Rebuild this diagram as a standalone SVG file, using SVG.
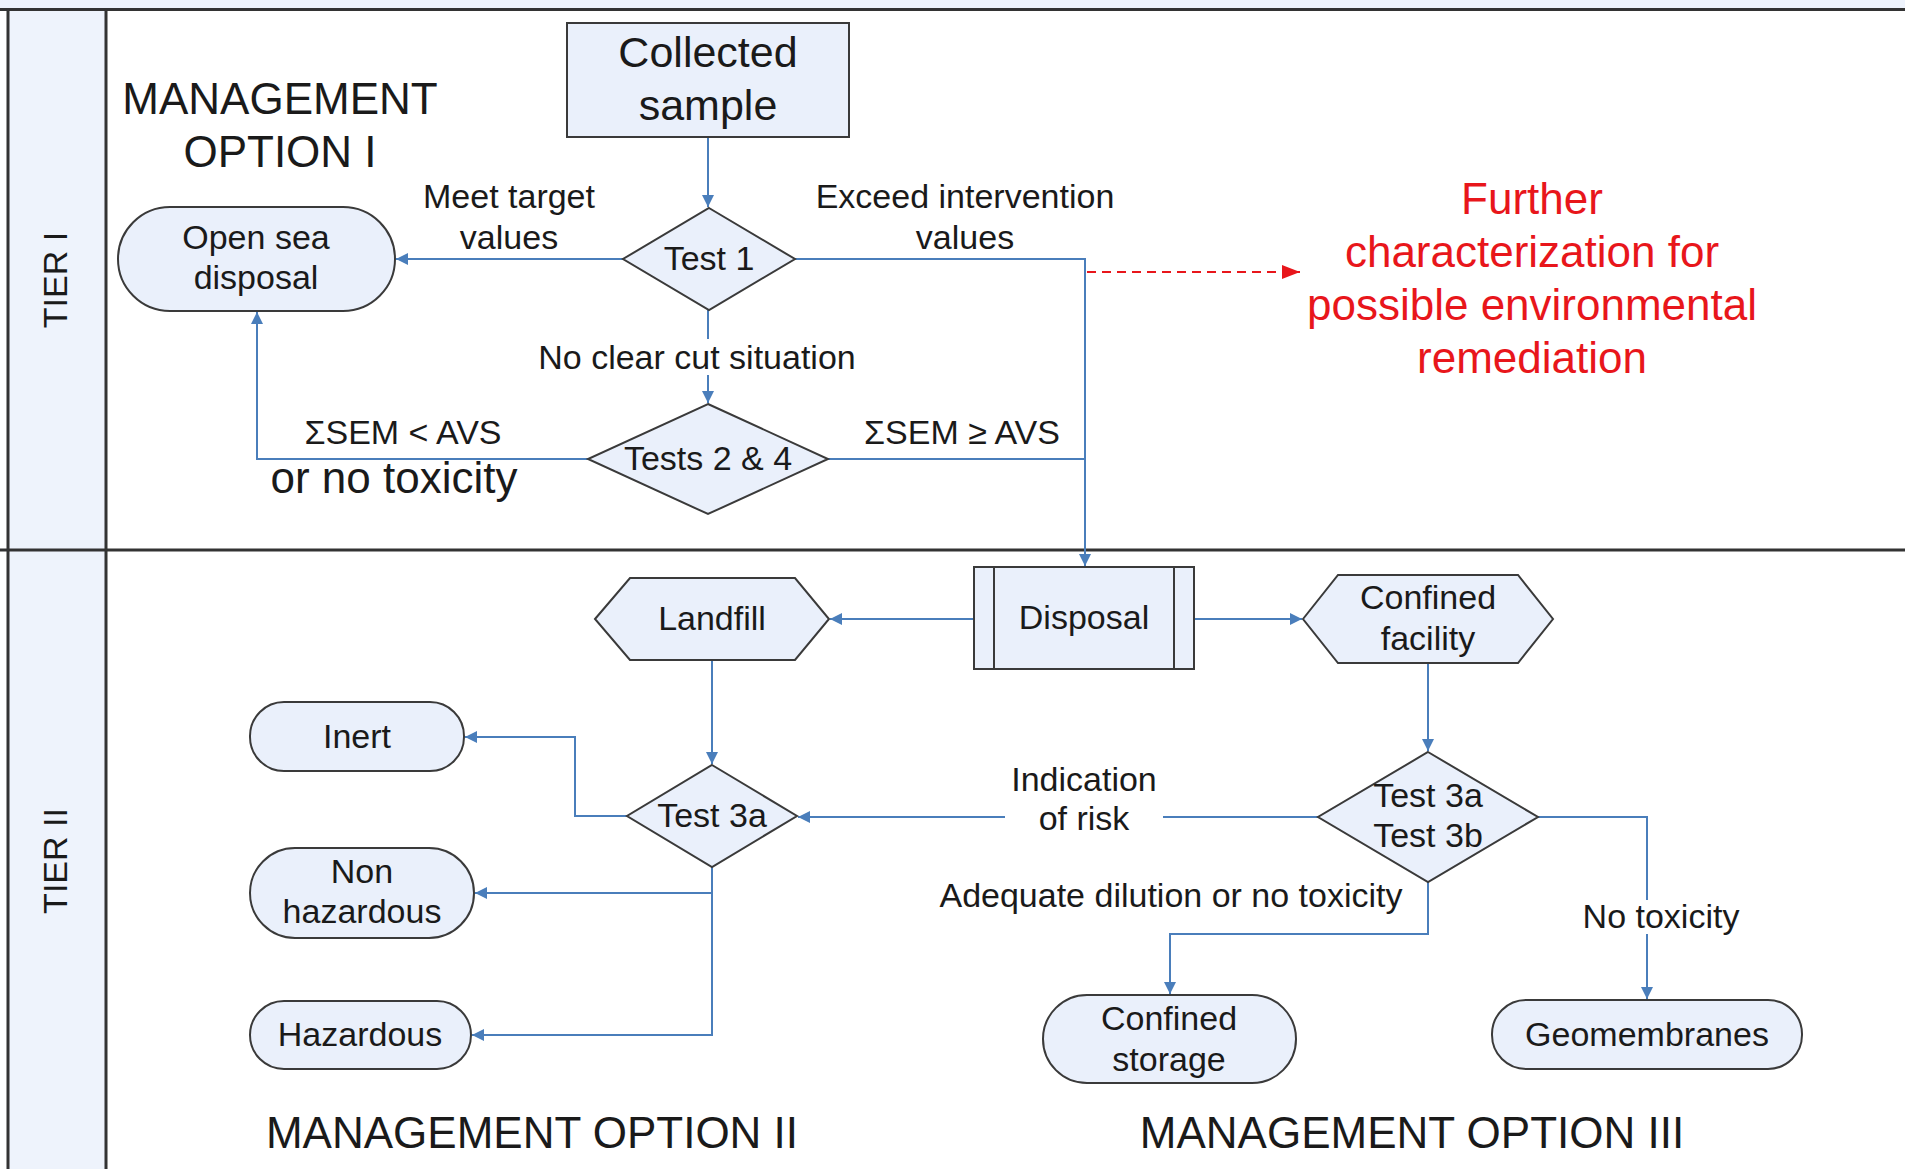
<svg xmlns="http://www.w3.org/2000/svg" width="1905" height="1169" viewBox="0 0 1905 1169">
<defs>
<style>
text{font-family:"Liberation Sans",Arial,sans-serif;fill:#1a1a1a;text-anchor:middle;dominant-baseline:central}
.n{fill:#eaf0fb;stroke:#3a3a3a;stroke-width:2}
.c{fill:none;stroke:#4a7ebb;stroke-width:2}
.ca{fill:none;stroke:#4a7ebb;stroke-width:2;marker-end:url(#ah)}
.t34{font-size:34px}
.t43{font-size:43px}
.t44{font-size:44px}
.red{fill:#e8161b;font-size:44px}
.frame{stroke:#333;stroke-width:3;fill:none}
.bg{fill:#ffffff}
</style>
<marker id="ah" viewBox="0 0 10 10" refX="10" refY="5" markerWidth="12" markerHeight="12" markerUnits="userSpaceOnUse" orient="auto">
<path d="M0,0 L10,5 L0,10 z" fill="#4a7ebb"/>
</marker>
<marker id="ahr" viewBox="0 0 10 10" refX="10" refY="5" markerWidth="18" markerHeight="14" markerUnits="userSpaceOnUse" orient="auto" preserveAspectRatio="none">
<path d="M0,0 L10,5 L0,10 z" fill="#e8161b"/>
</marker>
</defs>
<rect x="0" y="0" width="1905" height="1169" fill="#ffffff"/>
<g id="lanes">
<rect x="0" y="0" width="1905" height="9" fill="#eef3fc"/>
<rect x="8" y="9" width="98" height="1160" fill="#eef3fc"/>
<line class="frame" x1="0" y1="9.5" x2="1905" y2="9.5"/>
<line class="frame" x1="0" y1="550" x2="1905" y2="550"/>
<line class="frame" x1="8" y1="9" x2="8" y2="1169"/>
<line class="frame" x1="106" y1="9" x2="106" y2="1169"/>
<text class="t34" transform="translate(55,280) rotate(-90)">TIER I</text>
<text class="t34" transform="translate(55,861) rotate(-90)">TIER II</text>
</g>
<g id="headings">
<text class="t44" x="280" y="98">MANAGEMENT</text>
<text class="t44" x="280" y="151">OPTION I</text>
<text class="t44" x="532" y="1132">MANAGEMENT OPTION II</text>
<text class="t44" x="1412" y="1132">MANAGEMENT OPTION III</text>
</g>
<g id="connectors">
<path class="ca" d="M708,137 L708,207"/>
<path class="ca" d="M623,259 L396,259"/>
<path class="ca" d="M795,259 L1085,259 L1085,566"/>
<path class="ca" d="M708,310 L708,403"/>
<path class="ca" d="M588,459 L257,459 L257,312"/>
<path class="c" d="M828,459 L1085,459"/>
<path d="M1087,272 L1300,272" fill="none" stroke="#e8161b" stroke-width="2" stroke-dasharray="9,6" marker-end="url(#ahr)"/>
<path class="ca" d="M974,619 L830,619"/>
<path class="ca" d="M1194,619 L1302,619"/>
<path class="ca" d="M712,660 L712,764"/>
<path class="ca" d="M627,816 L575,816 L575,737 L465,737"/>
<path class="ca" d="M712,867 L712,1035 L472,1035"/>
<path class="ca" d="M712,893 L475,893"/>
<path class="ca" d="M1428,663 L1428,751"/>
<path class="ca" d="M1318,817 L798,817"/>
<path class="ca" d="M1538,817 L1647,817 L1647,999"/>
<path class="ca" d="M1428,882 L1428,934 L1170,934 L1170,994"/>
</g>
<g id="connector-labels">
<text class="t34" x="509" y="196">Meet target</text>
<text class="t34" x="509" y="237">values</text>
<text class="t34" x="965" y="196">Exceed intervention</text>
<text class="t34" x="965" y="237">values</text>
<rect class="bg" x="538" y="339" width="318" height="36"/>
<text class="t34" x="697" y="357">No clear cut situation</text>
<text class="t34" x="403" y="432">ΣSEM &lt; AVS</text>
<text class="t44" x="394" y="477">or no toxicity</text>
<text class="t34" x="962" y="432">ΣSEM ≥ AVS</text>
<rect class="bg" x="1005" y="758" width="158" height="80"/>
<text class="t34" x="1084" y="779">Indication</text>
<text class="t34" x="1084" y="818">of risk</text>
<text class="t34" x="1171" y="895">Adequate dilution or no toxicity</text>
<rect class="bg" x="1582" y="900" width="158" height="34"/>
<text class="t34" x="1661" y="916">No toxicity</text>
</g>
<g id="further">
<text class="red" x="1532" y="198">Further</text>
<text class="red" x="1532" y="251">characterization for</text>
<text class="red" x="1532" y="304">possible environmental</text>
<text class="red" x="1532" y="357">remediation</text>
</g>
<g id="collected-sample">
<rect class="n" x="567" y="23" width="282" height="114"/>
<text class="t43" x="708" y="52">Collected</text>
<text class="t43" x="708" y="105">sample</text>
</g>
<g id="test1">
<polygon class="n" points="709,208 795,259 709,310 623,259"/>
<text class="t34" x="709" y="258">Test 1</text>
</g>
<g id="open-sea-disposal">
<rect class="n" x="118" y="207" width="277" height="104" rx="52" ry="52"/>
<text class="t34" x="256" y="237">Open sea</text>
<text class="t34" x="256" y="277">disposal</text>
</g>
<g id="tests24">
<polygon class="n" points="708,404 828,459 708,514 588,459"/>
<text class="t34" x="708" y="458">Tests 2 &amp; 4</text>
</g>
<g id="disposal">
<rect class="n" x="974" y="567" width="220" height="102"/>
<line x1="994" y1="567" x2="994" y2="669" stroke="#3a3a3a" stroke-width="2"/>
<line x1="1174" y1="567" x2="1174" y2="669" stroke="#3a3a3a" stroke-width="2"/>
<text class="t34" x="1084" y="617">Disposal</text>
</g>
<g id="landfill">
<polygon class="n" points="595,619 630,578 795,578 829,619 795,660 630,660"/>
<text class="t34" x="712" y="618">Landfill</text>
</g>
<g id="confined-facility">
<polygon class="n" points="1303,619 1338,575 1518,575 1553,619 1518,663 1338,663"/>
<text class="t34" x="1428" y="597">Confined</text>
<text class="t34" x="1428" y="638">facility</text>
</g>
<g id="test3a">
<polygon class="n" points="712,765 797,816 712,867 627,816"/>
<text class="t34" x="712" y="815">Test 3a</text>
</g>
<g id="test3a3b">
<polygon class="n" points="1428,752 1538,817 1428,882 1318,817"/>
<text class="t34" x="1428" y="795">Test 3a</text>
<text class="t34" x="1428" y="835">Test 3b</text>
</g>
<g id="inert">
<rect class="n" x="250" y="702" width="214" height="69" rx="34" ry="34"/>
<text class="t34" x="357" y="736">Inert</text>
</g>
<g id="non-hazardous">
<rect class="n" x="250" y="848" width="224" height="90" rx="45" ry="45"/>
<text class="t34" x="362" y="871">Non</text>
<text class="t34" x="362" y="911">hazardous</text>
</g>
<g id="hazardous">
<rect class="n" x="250" y="1001" width="221" height="68" rx="34" ry="34"/>
<text class="t34" x="360" y="1034">Hazardous</text>
</g>
<g id="confined-storage">
<rect class="n" x="1043" y="995" width="253" height="88" rx="44" ry="44"/>
<text class="t34" x="1169" y="1018">Confined</text>
<text class="t34" x="1169" y="1059">storage</text>
</g>
<g id="geomembranes">
<rect class="n" x="1492" y="1000" width="310" height="69" rx="34" ry="34"/>
<text class="t34" x="1647" y="1034">Geomembranes</text>
</g>
</svg>
